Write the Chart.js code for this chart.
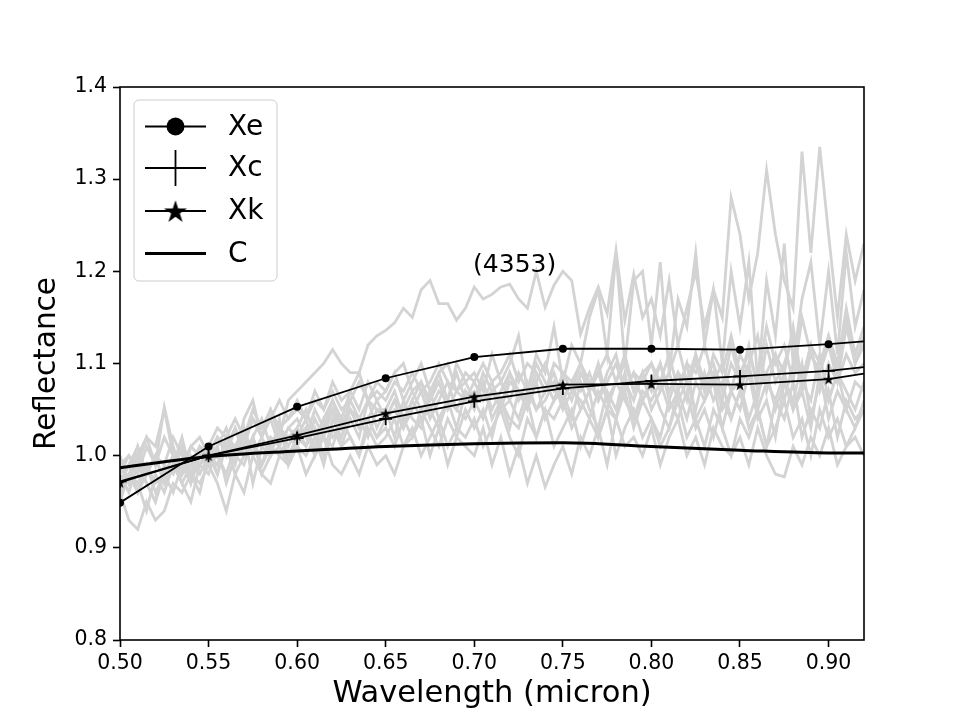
<!DOCTYPE html>
<html>
<head>
<meta charset="utf-8">
<script src="https://cdn.jsdelivr.net/npm/chart.js@4.4.0/dist/chart.umd.min.js"></script>
<style>
  html, body { margin: 0; padding: 0; background: #fff; }
  #wrap { width: 960px; height: 720px; }
</style>
</head>
<body>
<div id="wrap"><canvas id="chart" width="960" height="720"></canvas></div>
<script>
// ---------------- DATA ----------------
const xTicks = [0.50, 0.55, 0.60, 0.65, 0.70, 0.75, 0.80, 0.85, 0.90];
const yTicks = [0.8, 0.9, 1.0, 1.1, 1.2, 1.3, 1.4];

// class means (markers every 0.05, last point is the line end at 0.92)
const meanWave = [0.50, 0.55, 0.60, 0.65, 0.70, 0.75, 0.80, 0.85, 0.90, 0.92];
const xeMean = [0.949, 1.010, 1.053, 1.084, 1.107, 1.116, 1.116, 1.115, 1.121, 1.124];
const xcMean = [0.972, 1.000, 1.019, 1.040, 1.059, 1.073, 1.081, 1.086, 1.092, 1.096];
const xkMean = [0.971, 1.000, 1.022, 1.046, 1.064, 1.077, 1.078, 1.077, 1.083, 1.089];
const cMean  = [0.987, 0.999, 1.005, 1.010, 1.013, 1.014, 1.010, 1.006, 1.003, 1.003];
const meanNames = ['Xe', 'Xc', 'Xk', 'C'];

// individual spectra (grey), sampled every 0.005 micron
const wave = [
  0.500, 0.505, 0.510, 0.515, 0.520, 0.525, 0.530, 0.535, 0.540, 0.545,
  0.550, 0.555, 0.560, 0.565, 0.570, 0.575, 0.580, 0.585, 0.590, 0.595,
  0.600, 0.605, 0.610, 0.615, 0.620, 0.625, 0.630, 0.635, 0.640, 0.645,
  0.650, 0.655, 0.660, 0.665, 0.670, 0.675, 0.680, 0.685, 0.690, 0.695,
  0.700, 0.705, 0.710, 0.715, 0.720, 0.725, 0.730, 0.735, 0.740, 0.745,
  0.750, 0.755, 0.760, 0.765, 0.770, 0.775, 0.780, 0.785, 0.790, 0.795,
  0.800, 0.805, 0.810, 0.815, 0.820, 0.825, 0.830, 0.835, 0.840, 0.845,
  0.850, 0.855, 0.860, 0.865, 0.870, 0.875, 0.880, 0.885, 0.890, 0.895,
  0.900, 0.905, 0.910, 0.915, 0.920
];

const spec4353 = [
  0.97, 0.99, 0.96, 0.98, 1.00, 0.97, 0.99, 1.01, 0.98, 0.99,
  1.00, 1.01, 1.03, 1.00, 1.02, 1.04, 1.03, 1.05, 1.02, 1.06,
  1.07, 1.08, 1.09, 1.10, 1.115, 1.10, 1.09, 1.09, 1.12, 1.13,
  1.136, 1.144, 1.16, 1.15, 1.18, 1.19, 1.165, 1.165, 1.147, 1.16,
  1.183, 1.17, 1.175, 1.183, 1.186, 1.17, 1.16, 1.20, 1.161, 1.185,
  1.20, 1.19, 1.132, 1.16, 1.183, 1.154, 1.223, 1.147, 1.197, 1.15,
  1.17, 1.13, 1.19, 1.12, 1.16, 1.20, 1.14, 1.18, 1.15, 1.28,
  1.24, 1.17, 1.22, 1.31, 1.24, 1.19, 1.16, 1.33, 1.22, 1.335,
  1.24, 1.15, 1.24, 1.19, 1.23
];
const specB = [
  0.96, 0.98, 1.00, 0.97, 0.95, 0.99, 0.98, 1.01, 0.97, 1.00,
  1.00, 0.99, 1.02, 1.01, 1.03, 1.00, 1.02, 1.04, 1.01, 1.03,
  1.04, 1.02, 1.05, 1.03, 1.06, 1.04, 1.07, 1.05, 1.08, 1.06,
  1.07, 1.09, 1.06, 1.08, 1.10, 1.07, 1.09, 1.06, 1.10, 1.08,
  1.09, 1.07, 1.11, 1.08, 1.10, 1.13, 1.07, 1.11, 1.09, 1.14,
  1.08, 1.12, 1.10, 1.15, 1.18, 1.11, 1.22, 1.10, 1.19, 1.20,
  1.12, 1.21, 1.09, 1.17, 1.14, 1.22, 1.12, 1.18, 1.10, 1.20,
  1.14, 1.21, 1.08, 1.19, 1.13, 1.23, 1.10, 1.17, 1.21, 1.12,
  1.20, 1.11, 1.22, 1.14, 1.18
];
const specC = [
  0.96, 0.93, 0.92, 0.95, 0.93, 0.94, 0.97, 0.96, 0.98, 0.97,
  0.99, 1.00, 0.98, 1.01, 1.00, 1.02, 0.99, 1.01, 1.03, 1.00,
  1.02, 1.01, 1.03, 1.00, 1.04, 1.02, 1.05, 1.03, 1.04, 1.06,
  1.04, 1.06, 1.05, 1.07, 1.05, 1.06, 1.08, 1.05, 1.07, 1.06,
  1.08, 1.06, 1.07, 1.05, 1.08, 1.07, 1.06, 1.09, 1.07, 1.08,
  1.06, 1.08, 1.07, 1.09, 1.06, 1.08, 1.10, 1.07, 1.09, 1.06,
  1.08, 1.10, 1.07, 1.09, 1.06, 1.11, 1.08, 1.10, 1.07, 1.12,
  1.08, 1.10, 1.13, 1.07, 1.11, 1.09, 1.14, 1.08, 1.12, 1.10,
  1.13, 1.09, 1.15, 1.10, 1.12
];
const specD = [
  0.98, 0.96, 0.99, 0.97, 0.95, 0.98, 0.96, 0.99, 0.97, 1.00,
  0.99, 0.97, 0.94, 0.98, 0.96, 1.00, 0.98, 0.97, 1.00, 0.99,
  1.01, 0.98, 1.00, 1.02, 0.99, 0.98, 1.00, 0.98, 1.01, 0.99,
  1.00, 0.98, 1.01, 1.02, 1.04, 1.00, 1.03, 0.99, 1.02, 1.01,
  1.00, 1.03, 0.99, 1.02, 0.98, 1.01, 0.97, 1.00, 0.966, 0.99,
  1.01, 0.98, 1.02, 1.00, 1.03, 0.99, 1.04, 1.01, 1.02, 1.00,
  1.03, 0.99, 1.02, 1.04, 1.00, 1.02, 0.99, 1.03, 1.01, 1.00,
  1.02, 0.99, 1.03, 1.00, 0.98, 0.977, 1.01, 0.99, 1.02, 1.00,
  1.03, 0.99, 1.01, 1.02, 1.00
];
const specE = [
  0.99, 1.00, 0.98, 1.01, 0.99, 1.02, 1.00, 0.99, 1.01, 1.00,
  1.01, 1.03, 1.02, 1.04, 1.02, 1.05, 1.03, 1.04, 1.06, 1.04,
  1.05, 1.04, 1.06, 1.05, 1.07, 1.05, 1.06, 1.08, 1.06, 1.07,
  1.06, 1.08, 1.07, 1.09, 1.07, 1.08, 1.10, 1.08, 1.07, 1.09,
  1.08, 1.10, 1.08, 1.09, 1.11, 1.08, 1.10, 1.09, 1.07, 1.10,
  1.09, 1.08, 1.10, 1.07, 1.09, 1.11, 1.08, 1.10, 1.07, 1.09,
  1.10, 1.08, 1.11, 1.07, 1.10, 1.09, 1.12, 1.08, 1.10, 1.07,
  1.11, 1.09, 1.06, 1.12, 1.08, 1.10, 1.13, 1.07, 1.11, 1.09,
  1.12, 1.08, 1.14, 1.10, 1.13
];
const specF = [
  0.97, 0.98, 0.96, 0.99, 0.97, 0.98, 1.00, 0.98, 0.99, 1.01,
  1.00, 0.99, 1.01, 1.00, 1.02, 1.01, 0.99, 1.02, 1.01, 1.03,
  1.02, 1.03, 1.01, 1.04, 1.02, 1.03, 1.05, 1.03, 1.04, 1.02,
  1.04, 1.05, 1.03, 1.06, 1.04, 1.05, 1.03, 1.06, 1.05, 1.04,
  1.06, 1.04, 1.07, 1.05, 1.06, 1.04, 1.07, 1.05, 1.06, 1.08,
  1.05, 1.07, 1.06, 1.04, 1.07, 1.05, 1.08, 1.06, 1.04, 1.07,
  1.06, 1.08, 1.05, 1.07, 1.04, 1.08, 1.06, 1.09, 1.05, 1.07,
  1.08, 1.04, 1.07, 1.09, 1.05, 1.08, 1.06, 1.10, 1.04, 1.08,
  1.06, 1.09, 1.05, 1.08, 1.07
];
const specG = [
  0.95, 0.98, 0.97, 0.94, 0.98, 0.96, 0.99, 0.97, 0.95, 0.99,
  0.98, 1.01, 0.97, 1.00, 0.99, 1.02, 0.98, 1.00, 1.01, 0.99,
  1.01, 1.00, 1.02, 0.99, 1.03, 1.01, 1.02, 1.00, 1.04, 1.02,
  1.03, 1.01, 1.04, 1.02, 1.05, 1.03, 1.01, 1.04, 1.02, 1.05,
  1.03, 1.05, 1.02, 1.06, 1.04, 1.03, 1.06, 1.02, 1.05, 1.04,
  1.06, 1.03, 1.05, 1.07, 1.02, 1.05, 1.04, 1.07, 1.03, 1.06,
  1.04, 1.02, 1.06, 1.04, 1.07, 1.03, 1.05, 1.02, 1.06, 1.04,
  1.07, 1.03, 1.05, 1.01, 1.06, 1.04, 1.08, 1.02, 1.05, 1.03,
  1.07, 1.02, 1.06, 1.04, 1.05
];
const specH = [
  0.98, 1.00, 0.99, 1.02, 1.01, 1.05, 1.00, 0.98, 1.01, 1.02,
  1.00, 1.02, 1.01, 1.03, 1.00, 1.02, 1.04, 1.01, 1.03, 1.02,
  1.03, 1.05, 1.02, 1.04, 1.06, 1.03, 1.05, 1.04, 1.06, 1.05,
  1.05, 1.07, 1.04, 1.06, 1.08, 1.05, 1.07, 1.06, 1.09, 1.06,
  1.07, 1.06, 1.08, 1.05, 1.09, 1.07, 1.06, 1.08, 1.10, 1.07,
  1.08, 1.06, 1.09, 1.07, 1.10, 1.06, 1.08, 1.11, 1.07, 1.09,
  1.07, 1.10, 1.06, 1.09, 1.08, 1.11, 1.07, 1.09, 1.06, 1.10,
  1.08, 1.12, 1.07, 1.09, 1.11, 1.06, 1.10, 1.08, 1.12, 1.07,
  1.10, 1.08, 1.11, 1.09, 1.10
];
const specI = [
  1.00, 0.97, 1.01, 0.98, 1.00, 0.97, 0.99, 1.02, 0.98, 0.96,
  1.00, 0.98, 1.01, 0.99, 1.03, 0.97, 1.01, 1.00, 1.04, 0.99,
  1.02, 1.04, 1.00, 1.03, 1.05, 1.01, 1.04, 1.02, 1.06, 1.03,
  1.05, 1.02, 1.06, 1.04, 1.03, 1.07, 1.04, 1.06, 1.03, 1.07,
  1.05, 1.08, 1.04, 1.06, 1.03, 1.07, 1.05, 1.08, 1.04, 1.06,
  1.07, 1.04, 1.08, 1.05, 1.03, 1.07, 1.05, 1.09, 1.04, 1.06,
  1.08, 1.05, 1.03, 1.07, 1.10, 1.04, 1.06, 1.08, 1.03, 1.07,
  1.05, 1.09, 1.04, 1.06, 1.02, 1.08, 1.05, 1.07, 1.03, 1.09,
  1.04, 1.07, 1.05, 1.03, 1.06
];
const specJ = [
  0.97, 0.99, 1.01, 0.98, 1.00, 0.99, 1.02, 1.00, 0.98, 1.01,
  1.00, 1.02, 1.00, 1.03, 1.01, 1.04, 1.02, 1.05, 1.03, 1.04,
  1.06, 1.04, 1.07, 1.05, 1.08, 1.06, 1.07, 1.09, 1.06, 1.08,
  1.07, 1.09, 1.10, 1.07, 1.08, 1.06, 1.09, 1.10, 1.07, 1.08,
  1.06, 1.09, 1.07, 1.08, 1.06, 1.09, 1.07, 1.10, 1.08, 1.06,
  1.09, 1.07, 1.10, 1.08, 1.06, 1.09, 1.11, 1.07, 1.09, 1.08,
  1.10, 1.07, 1.09, 1.12, 1.08, 1.10, 1.07, 1.11, 1.09, 1.13,
  1.09, 1.11, 1.08, 1.14, 1.10, 1.12, 1.08, 1.15, 1.11, 1.09,
  1.13, 1.10, 1.16, 1.11, 1.14
];
const specK = [
  0.99, 0.97, 1.00, 1.02, 0.99, 1.053, 1.01, 0.98, 1.00, 0.99,
  1.01, 0.98, 1.02, 1.00, 1.04, 1.06, 1.02, 1.00, 1.03, 1.01,
  1.03, 1.01, 1.04, 1.02, 1.05, 1.03, 1.06, 1.04, 1.02, 1.05,
  1.04, 1.06, 1.03, 1.05, 1.07, 1.04, 1.06, 1.08, 1.05, 1.07,
  1.06, 1.08, 1.05, 1.07, 1.09, 1.06, 1.08, 1.05, 1.07, 1.09,
  1.06, 1.08, 1.05, 1.07, 1.09, 1.06, 1.04, 1.08, 1.06, 1.09,
  1.05, 1.07, 1.09, 1.06, 1.08, 1.05, 1.09, 1.06, 1.08, 1.04,
  1.07, 1.10, 1.05, 1.08, 1.06, 1.09, 1.05, 1.08, 1.06, 1.11,
  1.06, 1.09, 1.07, 1.05, 1.08
];
const specL = [
  0.96, 0.98, 0.97, 0.99, 0.96, 0.98, 1.00, 0.97, 0.99, 0.98,
  1.00, 0.99, 1.01, 0.98, 1.00, 1.02, 0.99, 1.01, 1.00, 1.02,
  1.01, 1.03, 1.00, 1.02, 1.01, 1.04, 1.02, 1.00, 1.03, 1.01,
  1.02, 1.04, 1.01, 1.03, 1.00, 1.02, 1.04, 1.01, 1.03, 1.02,
  1.04, 1.01, 1.03, 1.05, 1.02, 1.00, 1.04, 1.02, 1.05, 1.01,
  1.03, 1.05, 1.01, 1.04, 1.02, 1.05, 1.00, 1.03, 1.05, 1.02,
  1.04, 1.01, 1.03, 1.06, 1.02, 1.04, 1.01, 1.05, 1.03, 1.00,
  1.04, 1.02, 1.05, 1.01, 1.03, 1.06, 1.02, 1.04, 1.00, 1.05,
  1.02, 1.04, 1.01, 1.03, 1.05
];
const spectra = [spec4353, specB, specC, specD, specE, specF, specG, specH, specI, specJ, specK, specL];

const noteText = '(4353)';
const notePos = [0.7228, 1.206];

// ---------------- MARKERS ----------------
function starImage(r) {
  const s = Math.ceil(r * 2 + 2);
  const c = document.createElement('canvas');
  c.width = s; c.height = s;
  const g = c.getContext('2d');
  g.translate(s / 2, s / 2 + r * 0.1);
  g.beginPath();
  for (let i = 0; i < 10; i++) {
    const rad = i % 2 ? r * 0.382 : r;
    const a = -Math.PI / 2 + i * Math.PI / 5;
    g.lineTo(rad * Math.cos(a), rad * Math.sin(a));
  }
  g.closePath();
  g.fillStyle = '#000';
  g.fill();
  return c;
}
const starSmall = starImage(6);

const pts = (xs, ys) => xs.map((x, i) => ({ x: x, y: ys[i] }));
const markerSizes = (r) => meanWave.map((w, i) => i === meanWave.length - 1 ? 0 : r);

// ---------------- DATASETS ----------------
const datasets = [
  { label: 'Xe', data: pts(meanWave, xeMean), borderColor: '#000', borderWidth: 1.8,
    pointStyle: 'circle', pointRadius: markerSizes(4), pointBackgroundColor: '#000', pointBorderWidth: 0 },
  { label: 'Xc', data: pts(meanWave, xcMean), borderColor: '#000', borderWidth: 1.8,
    pointStyle: 'cross', pointRadius: markerSizes(6.5), pointBorderColor: '#000', pointBorderWidth: 1.8 },
  { label: 'Xk', data: pts(meanWave, xkMean), borderColor: '#000', borderWidth: 1.8,
    pointStyle: starSmall, pointRadius: markerSizes(5) },
  { label: 'C', data: pts(meanWave, cMean), borderColor: '#000', borderWidth: 3,
    pointRadius: 0, cubicInterpolationMode: 'monotone' }
];
spectra.forEach((s, i) => {
  datasets.push({ label: 'spec' + i, data: pts(wave, s), borderColor: '#d3d3d3',
    borderWidth: 2.8, pointRadius: 0, tension: 0 });
});

// ---------------- PLUGIN: frame, legend, note ----------------
const extras = {
  id: 'extras',
  afterDatasetsDraw(chart) {
    const ctx = chart.ctx;
    const a = chart.chartArea;
    const xs = chart.scales.x, ys = chart.scales.y;

    // note
    ctx.save();
    ctx.fillStyle = '#000';
    ctx.font = '25px "DejaVu Sans"';
    ctx.textAlign = 'center';
    ctx.textBaseline = 'middle';
    ctx.fillText(noteText, xs.getPixelForValue(notePos[0]), ys.getPixelForValue(notePos[1]));
    ctx.restore();

    // spines
    ctx.save();
    ctx.strokeStyle = '#000';
    ctx.lineWidth = 1.6;
    ctx.strokeRect(a.left, a.top, a.right - a.left, a.bottom - a.top);
    ctx.restore();

    // legend
    ctx.save();
    const bx = 134, by = 100, bw = 143, bh = 181, r = 5;
    ctx.beginPath();
    ctx.moveTo(bx + r, by);
    ctx.arcTo(bx + bw, by, bx + bw, by + bh, r);
    ctx.arcTo(bx + bw, by + bh, bx, by + bh, r);
    ctx.arcTo(bx, by + bh, bx, by, r);
    ctx.arcTo(bx, by, bx + bw, by, r);
    ctx.closePath();
    ctx.fillStyle = 'rgba(255,255,255,0.8)';
    ctx.fill();
    ctx.strokeStyle = '#cccccc';
    ctx.lineWidth = 1;
    ctx.stroke();

    const rows = [126.5, 168, 211, 253.5];
    const big = starImage(12);
    meanNames.forEach((name, i) => {
      const y = rows[i];
      ctx.strokeStyle = '#000';
      ctx.lineWidth = i === 3 ? 3 : 1.8;
      ctx.beginPath();
      ctx.moveTo(145, y); ctx.lineTo(206, y);
      ctx.stroke();
      const cx = 175.5;
      if (i === 0) {
        ctx.fillStyle = '#000';
        ctx.beginPath(); ctx.arc(cx, y, 9, 0, Math.PI * 2); ctx.fill();
      } else if (i === 1) {
        ctx.lineWidth = 1.8;
        ctx.beginPath(); ctx.moveTo(cx, y - 18); ctx.lineTo(cx, y + 18); ctx.stroke();
      } else if (i === 2) {
        ctx.drawImage(big, cx - big.width / 2, y - big.height / 2);
      }
      ctx.fillStyle = '#000';
      ctx.font = '28px "DejaVu Sans"';
      ctx.textAlign = 'left';
      ctx.textBaseline = 'middle';
      ctx.fillText(name, 228, y + 1);
    });
    ctx.restore();
  }
};

// ---------------- CHART ----------------
new Chart(document.getElementById('chart'), {
  type: 'line',
  data: { datasets: datasets },
  options: {
    responsive: false,
    animation: false,
    events: [],
    layout: { padding: { left: 0, right: 96, top: 87, bottom: 0 } },
    plugins: { legend: { display: false }, tooltip: { enabled: false } },
    scales: {
      x: {
        type: 'linear', min: 0.50, max: 0.92,
        afterFit: s => { s.height = 80; },
        afterBuildTicks: s => { s.ticks = xTicks.map(v => ({ value: v })); },
        border: { display: false },
        grid: { drawOnChartArea: false, drawTicks: true, tickLength: 7, tickColor: '#000', tickWidth: 1.6 },
        ticks: { color: '#000', padding: 4, maxRotation: 0, autoSkip: false,
                 font: { family: 'DejaVu Sans', size: 20.5 },
                 callback: v => Number(v).toFixed(2) },
        title: { display: true, text: 'Wavelength (micron)', color: '#000',
                 font: { family: 'DejaVu Sans', size: 30.5 }, padding: { top: 0, bottom: 8 } }
      },
      y: {
        type: 'linear', min: 0.8, max: 1.4,
        afterFit: s => { s.width = 120; },
        afterBuildTicks: s => { s.ticks = yTicks.map(v => ({ value: v })); },
        border: { display: false },
        grid: { drawOnChartArea: false, drawTicks: true, tickLength: 7, tickColor: '#000', tickWidth: 1.6 },
        ticks: { color: '#000', padding: 6, autoSkip: false,
                 font: { family: 'DejaVu Sans', size: 20.5 },
                 callback: v => Number(v).toFixed(1) },
        title: { display: true, text: 'Reflectance', color: '#000',
                 font: { family: 'DejaVu Sans', size: 29.5 }, padding: { top: 30, bottom: 0 } }
      }
    }
  },
  plugins: [extras]
});
</script>
</body>
</html>
